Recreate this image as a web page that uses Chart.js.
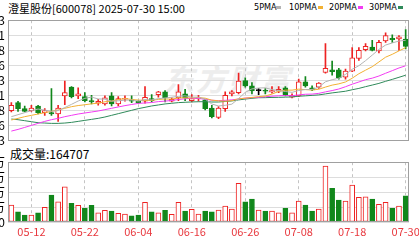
<!DOCTYPE html>
<html>
<head>
<meta charset="utf-8">
<script src="https://cdn.jsdelivr.net/npm/chart.js@4.4.1/dist/chart.umd.min.js"></script>
<style>
  html, body { margin: 0; padding: 0; width: 419px; height: 240px; overflow: hidden; background: #fff; }
  body { position: relative; font-family: "Noto Sans CJK SC", sans-serif; }
  #title { position: absolute; left: 8px; top: 0; font-size: 11px; line-height: 16px; color: #000; white-space: nowrap; }
  .lg { position: absolute; top: 1px; font-family: "Liberation Sans Narrow", "DejaVu Sans Condensed", sans-serif; font-size: 9px; line-height: 12px; color: #000; }
  .mk { position: absolute; top: 6px; width: 5px; height: 3px; }
  #volTitle { position: absolute; left: 10px; top: 146px; font-size: 12px; line-height: 16px; color: #000; white-space: nowrap; }
  #mark { position: absolute; left: 164px; top: 56px; font-size: 30px; font-weight: bold; font-style: italic; color: #ededed; letter-spacing: 2px; white-space: nowrap; }
  #priceCanvas { position: absolute; left: -40px; top: 10px; }
  #volCanvas { position: absolute; left: -40px; top: 152px; }
</style>
</head>
<body>
<div id="mark">东方财富</div>
<div id="title">澄星股份[600078] 2025-07-30 15:00</div>
<span class="lg" style="left:254px">5PMA</span><span class="mk" style="left:276px;background:#b4b4b4"></span>
<span class="lg" style="left:289px">10PMA</span><span class="mk" style="left:318px;background:#f2b134"></span>
<span class="lg" style="left:329px">20PMA</span><span class="mk" style="left:358px;background:#f23cf2"></span>
<span class="lg" style="left:369px">30PMA</span><span class="mk" style="left:398px;background:#2f8a5a"></span>
<div id="volTitle">成交量:164707</div>
<canvas id="priceCanvas" width="500" height="141"></canvas>
<canvas id="volCanvas" width="500" height="88"></canvas>
<script>
// daily bars, 2025-05-07 .. 2025-07-30
const dates = ['05-07','05-08','05-09','05-12','05-13','05-14','05-15','05-16','05-19','05-20',
  '05-21','05-22','05-23','05-26','05-27','05-28','05-29','05-30','06-03','06-04',
  '06-05','06-06','06-09','06-10','06-11','06-12','06-13','06-16','06-17','06-18',
  '06-19','06-20','06-23','06-24','06-25','06-26','06-27','06-30','07-01','07-02',
  '07-03','07-04','07-07','07-08','07-09','07-10','07-11','07-14','07-15','07-16',
  '07-17','07-18','07-21','07-22','07-23','07-24','07-25','07-28','07-29','07-30'];

const opens = [6.08,6.20,6.11,6.08,6.15,6.05,6.05,6.03,6.30,6.43,
  6.30,6.29,6.23,6.19,6.18,6.30,6.18,6.25,6.24,6.22,
  6.22,6.26,6.32,6.36,6.22,6.27,6.33,6.23,6.26,6.24,
  6.12,5.98,6.11,6.33,6.35,6.53,6.45,6.38,6.38,6.36,
  6.37,6.42,6.28,6.30,6.51,6.42,6.43,6.65,6.69,6.69,
  6.58,6.67,6.86,6.99,7.03,6.97,7.12,7.16,7.15,7.15];

const highs = [6.20,6.22,6.15,6.16,6.16,6.11,6.41,6.16,6.52,6.44,
  6.42,6.35,6.31,6.25,6.30,6.35,6.29,6.30,6.30,6.23,
  6.44,6.32,6.37,6.38,6.27,6.47,6.40,6.32,6.31,6.25,
  6.16,6.14,6.36,6.38,6.64,6.57,6.50,6.41,6.41,6.44,
  6.44,6.44,6.33,6.55,6.59,6.45,6.50,7.08,6.82,6.71,
  6.70,7.02,7.02,7.08,7.13,7.13,7.24,7.21,7.20,7.29];

const lows = [6.06,6.07,6.06,6.07,6.03,6.01,6.01,5.92,6.17,6.27,
  6.26,6.21,6.18,6.16,6.16,6.15,6.15,6.22,6.20,6.19,
  6.19,6.21,6.28,6.21,6.21,6.23,6.23,6.21,6.22,6.09,
  5.97,5.96,6.07,6.30,6.33,6.43,6.33,6.32,6.33,6.34,
  6.35,6.30,6.27,6.29,6.43,6.38,6.41,6.64,6.61,6.55,
  6.55,6.66,6.83,6.97,6.97,6.94,7.10,7.10,6.98,7.00];

const closes = [6.16,6.11,6.07,6.12,6.05,6.08,6.03,6.12,6.35,6.29,
  6.33,6.23,6.21,6.22,6.27,6.18,6.26,6.26,6.22,6.20,
  6.28,6.23,6.36,6.27,6.25,6.36,6.27,6.26,6.27,6.11,
  5.99,6.12,6.31,6.36,6.52,6.45,6.38,6.38,6.37,6.38,
  6.40,6.31,6.31,6.51,6.45,6.39,6.49,6.71,6.66,6.57,
  6.67,6.87,6.98,7.04,6.98,7.10,7.20,7.14,7.18,7.04];

const ma5 = [5.99,6.02,6.05,6.08,6.104,6.088,6.071,6.081,6.126,6.174,
  6.224,6.264,6.282,6.255,6.252,6.221,6.227,6.237,6.239,6.224,
  6.245,6.240,6.259,6.269,6.280,6.294,6.301,6.282,6.281,6.252,
  6.179,6.150,6.160,6.177,6.260,6.353,6.405,6.418,6.421,6.393,
  6.381,6.366,6.353,6.381,6.395,6.395,6.431,6.511,6.542,6.564,
  6.621,6.697,6.751,6.826,6.909,6.994,7.059,7.091,7.119,7.130];

const ma10 = [5.94,5.965,5.99,6.01,6.03,6.05,6.07,6.09,6.115,6.139,
  6.156,6.168,6.182,6.191,6.213,6.223,6.246,6.260,6.247,6.238,
  6.233,6.233,6.248,6.254,6.252,6.270,6.271,6.270,6.275,6.266,
  6.237,6.226,6.221,6.229,6.256,6.266,6.277,6.289,6.299,6.327,
  6.367,6.386,6.386,6.401,6.394,6.388,6.399,6.432,6.461,6.480,
  6.508,6.564,6.631,6.684,6.736,6.807,6.878,6.921,6.972,7.020];

const ma20 = [5.775,5.80,5.83,5.86,5.89,5.92,5.945,5.965,5.99,6.01,
  6.03,6.045,6.06,6.075,6.095,6.115,6.135,6.155,6.172,6.188,
  6.195,6.201,6.215,6.222,6.232,6.246,6.258,6.265,6.261,6.252,
  6.235,6.230,6.234,6.241,6.254,6.268,6.274,6.280,6.287,6.296,
  6.302,6.306,6.303,6.315,6.325,6.327,6.338,6.360,6.380,6.403,
  6.437,6.475,6.508,6.542,6.565,6.597,6.638,6.677,6.717,6.750];

const ma30 = [5.955,5.945,5.93,5.915,5.90,5.895,5.89,5.89,5.895,5.905,
  5.92,5.935,5.95,5.965,5.985,6.01,6.035,6.06,6.085,6.11,
  6.13,6.15,6.165,6.18,6.19,6.20,6.205,6.21,6.213,6.214,
  6.209,6.209,6.217,6.225,6.240,6.253,6.264,6.273,6.274,6.277,
  6.279,6.282,6.285,6.295,6.301,6.308,6.315,6.330,6.345,6.357,
  6.370,6.392,6.412,6.438,6.462,6.487,6.518,6.547,6.578,6.609];

const volumes = [106500,64500,43800,43800,58200,92000,169000,127100,221000,117100,
  104600,85800,104600,58200,73300,68900,54500,50100,39500,43800,
  123400,64500,58200,73300,48200,123400,68900,79500,50100,68900,
  64500,75100,100200,81400,242300,127100,144000,75100,68900,68900,
  58200,85800,58200,131500,106500,68900,81400,350700,211000,137800,
  131500,231700,154700,158400,144000,110800,123400,85800,100200,164707];

const priceTickValues = [5.63,5.855,6.08,6.305,6.53,6.755,6.98,7.205,7.43];
const priceTickLabels = ['5.63','5.86','6.08','6.31','6.53','6.76','6.98','7.21','7.43'];
const volTickValues = [0,93925,187850,281775,375700];
const volTickLabels = ['0','9万','19万','28万','38万'];

const RED = '#ee2222';
const GREEN = '#11871b';
const GRID = '#dddddd';
const VGRID = '#c4c4c4';
const FRAME = '#a0a0a0';
const LABEL_EVERY = 8, LABEL_FIRST = 3;

const dir = closes.map((c, i) => (c > opens[i] ? 1 : (c < opens[i] ? -1 : 0)));
const candleColor = dir.map((d) => (d > 0 ? RED : (d < 0 ? GREEN : '#000')));

Chart.defaults.font.family = '"Noto Sans CJK SC", sans-serif';

const framePlugin = {
  id: 'frame',
  afterDraw(chart) {
    const a = chart.chartArea;
    const ctx = chart.ctx;
    ctx.save();
    ctx.strokeStyle = FRAME;
    ctx.lineWidth = 1;
    const l = Math.round(a.left) + 0.5, t = Math.round(a.top) + 0.5;
    const r = Math.round(a.right) - 0.5, b = Math.round(a.bottom) - 0.5;
    ctx.strokeRect(l, t, r - l, b - t);
    ctx.restore();
  },
};

const vGridColor = (ctx) => (ctx.index % LABEL_EVERY === LABEL_FIRST ? VGRID : 'rgba(0,0,0,0)');

function maLine(data, color) {
  return { type: 'line', data, borderColor: color, borderWidth: 1, pointRadius: 0, tension: 0, order: 1 };
}

new Chart(document.getElementById('priceCanvas'), {
  data: {
    labels: dates,
    datasets: [
      {
        type: 'bar',
        data: lows.map((l, i) => [l, highs[i]]),
        backgroundColor: candleColor,
        barThickness: 1,
        grouped: false,
        order: 3,
      },
      {
        type: 'bar',
        data: opens.map((o, i) => [o, closes[i]]),
        backgroundColor: dir.map((d, i) => (d > 0 ? '#ffffff' : candleColor[i])),
        borderColor: candleColor,
        borderWidth: 1,
        borderSkipped: false,
        barThickness: 5,
        minBarLength: 1,
        grouped: false,
        order: 2,
      },
      maLine(ma5, '#b4b4b4'),
      maLine(ma10, '#f2b134'),
      maLine(ma20, '#f23cf2'),
      maLine(ma30, '#2f8a5a'),
    ],
  },
  options: {
    responsive: false,
    animation: false,
    events: [],
    devicePixelRatio: 1,
    layout: { padding: { top: 10, bottom: 8, left: 0, right: 51 } },
    plugins: { legend: { display: false }, tooltip: { enabled: false } },
    scales: {
      x: {
        type: 'category',
        offset: true,
        afterFit: (s) => { s.height = 0; },
        ticks: { display: false },
        grid: { offset: false, drawTicks: false, color: vGridColor },
        border: { display: false, dash: [3, 3] },
      },
      y: {
        min: priceTickValues[0],
        max: priceTickValues[priceTickValues.length - 1],
        afterBuildTicks: (s) => { s.ticks = priceTickValues.map((v) => ({ value: v })); },
        afterFit: (s) => { s.width = 48; },
        ticks: {
          autoSkip: false,
          padding: 3,
          color: '#000',
          font: { size: 12 },
          callback: (v, i) => priceTickLabels[i],
        },
        grid: { color: GRID, drawTicks: false },
        border: { display: false },
      },
    },
  },
  plugins: [framePlugin],
});

new Chart(document.getElementById('volCanvas'), {
  type: 'bar',
  data: {
    labels: dates,
    datasets: [{
      data: volumes,
      backgroundColor: dir.map((d) => (d >= 0 ? '#ffffff' : GREEN)),
      borderColor: dir.map((d) => (d >= 0 ? RED : GREEN)),
      borderWidth: 1,
      borderSkipped: false,
      barThickness: 5,
    }],
  },
  options: {
    responsive: false,
    animation: false,
    events: [],
    devicePixelRatio: 1,
    layout: { padding: { top: 10, bottom: 0, left: 0, right: 51 } },
    plugins: { legend: { display: false }, tooltip: { enabled: false } },
    scales: {
      x: {
        type: 'category',
        offset: true,
        afterFit: (s) => { s.height = 18; },
        ticks: {
          autoSkip: false,
          maxRotation: 0,
          padding: 3,
          color: '#e8393f',
          font: { size: 11 },
          callback: (v, i) => (i % LABEL_EVERY === LABEL_FIRST ? dates[i] : ''),
        },
        grid: { offset: false, drawTicks: false, color: vGridColor },
        border: { display: false, dash: [3, 3] },
      },
      y: {
        min: volTickValues[0],
        max: volTickValues[volTickValues.length - 1],
        afterBuildTicks: (s) => { s.ticks = volTickValues.map((v) => ({ value: v })); },
        afterFit: (s) => { s.width = 48; },
        ticks: {
          autoSkip: false,
          padding: 3,
          color: '#000',
          font: { size: 12 },
          callback: (v, i) => volTickLabels[i],
        },
        grid: { color: GRID, drawTicks: false },
        border: { display: false },
      },
    },
  },
  plugins: [framePlugin],
});
</script>
</body>
</html>
